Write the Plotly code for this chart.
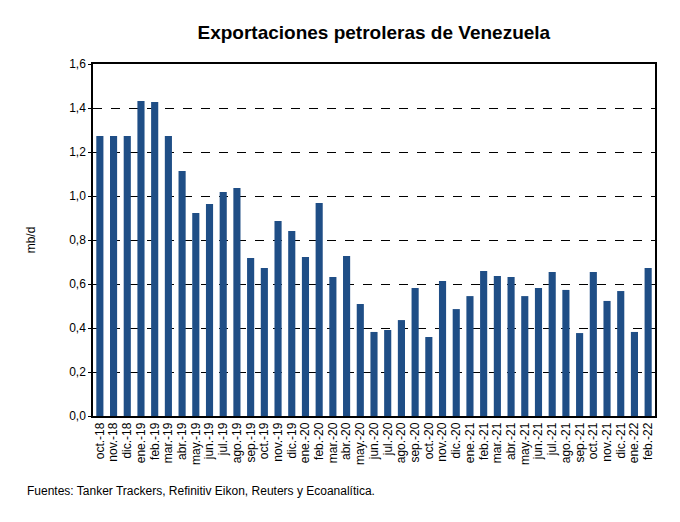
import plotly.graph_objects as go

months = ["oct.-18","nov.-18","dic.-18","ene.-19","feb.-19","mar.-19","abr.-19","may.-19","jun.-19","jul.-19",
          "ago.-19","sep.-19","oct.-19","nov.-19","dic.-19","ene.-20","feb.-20","mar.-20","abr.-20","may.-20",
          "jun.-20","jul.-20","ago.-20","sep.-20","oct.-20","nov.-20","dic.-20","ene.-21","feb.-21","mar.-21",
          "abr.-21","may.-21","jun.-21","jul.-21","ago.-21","sep.-21","oct.-21","nov.-21","dic.-21","ene.-22","feb.-22"]
exports = [1.273,1.273,1.273,1.432,1.427,1.273,1.114,0.923,0.964,1.018,
           1.036,0.718,0.673,0.886,0.841,0.723,0.968,0.632,0.727,0.509,
           0.382,0.391,0.436,0.582,0.359,0.614,0.486,0.545,0.659,0.636,
           0.632,0.545,0.582,0.655,0.573,0.377,0.655,0.523,0.568,0.382,0.673]
y_ticks = [0,0.2,0.4,0.6,0.8,1.0,1.2,1.4,1.6]

font = "Liberation Sans, Arial, sans-serif"

fig = go.Figure(go.Bar(x=months, y=exports, marker=dict(color="#1F4E86", line=dict(width=0)),
                       hoverinfo="x+y"))

fig.update_layout(
    width=680, height=522,
    margin=dict(l=85, r=33, t=56, b=114),
    paper_bgcolor="white", plot_bgcolor="white",
    separators=",.",
    bargap=0.48,
    showlegend=False,
    font=dict(family=font, color="black", size=11),
    title=dict(text="<b>Exportaciones petroleras de Venezuela</b>", x=0.538, xanchor="center",
               y=0.954, yanchor="middle", font=dict(size=19, family=font, color="black")),
    annotations=[dict(text="Fuentes: Tanker Trackers, Refinitiv Eikon, Reuters y Ecoanalítica.",
                      xref="paper", yref="paper", x=-0.121, y=-0.213, xanchor="left", yanchor="middle",
                      showarrow=False, font=dict(size=12, family=font, color="black"))],
)
fig.update_xaxes(
    type="category", tickmode="array", tickvals=months, ticktext=months, tickangle=-90,
    showline=True, linecolor="black", linewidth=1.5, mirror=True, automargin=False,
    ticks="", tickfont=dict(size=12, family=font, color="black"), showgrid=False,
)
fig.update_yaxes(
    range=[0, 1.6], tickvals=y_ticks, tickformat=".1f", showline=True, linecolor="black", linewidth=1.5,
    mirror=True, ticks="outside", ticklen=3, tickcolor="black", automargin=False,
    showgrid=True, gridcolor="black", griddash="dash", gridwidth=1.3, zeroline=False,
    tickfont=dict(size=12, family=font, color="black"),
    title=dict(text="mb/d", font=dict(size=12, family=font, color="black"), standoff=31),
)

fig.write_html("out.html")
